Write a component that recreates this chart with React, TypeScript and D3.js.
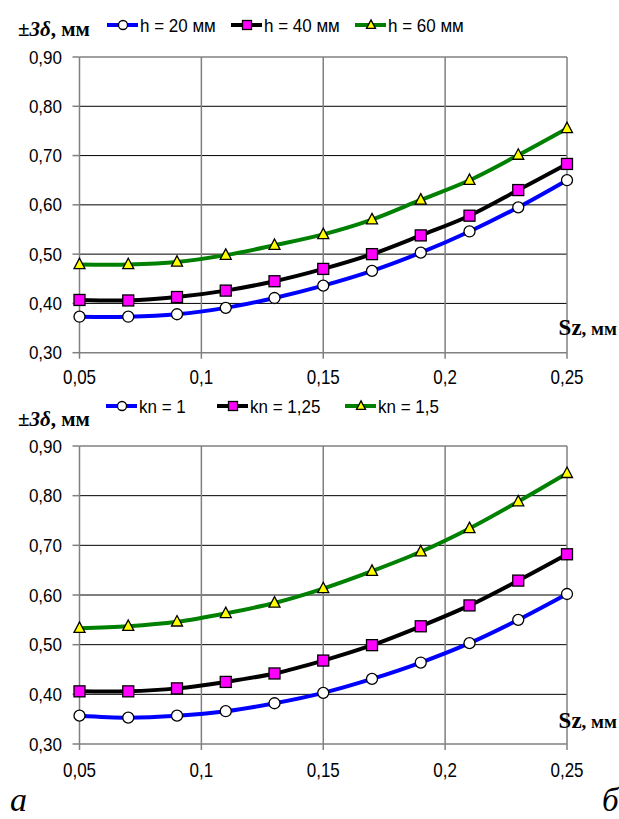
import React from "react";
import * as d3 from "d3";

const xValues = [0.05, 0.07, 0.09, 0.11, 0.13, 0.15, 0.17, 0.19, 0.21, 0.23, 0.25];

const topH20 = [0.373, 0.373, 0.378, 0.391, 0.411, 0.436, 0.466, 0.503, 0.546, 0.595, 0.65];
const topH40 = [0.407, 0.406, 0.413, 0.426, 0.445, 0.47, 0.5, 0.538, 0.578, 0.63, 0.683];
const topH60 = [0.479, 0.479, 0.484, 0.498, 0.518, 0.54, 0.57, 0.61, 0.65, 0.701, 0.755];

const botKn1 = [0.357, 0.353, 0.357, 0.366, 0.382, 0.403, 0.431, 0.464, 0.503, 0.55, 0.602];
const botKn125 = [0.406, 0.406, 0.412, 0.425, 0.442, 0.468, 0.499, 0.537, 0.579, 0.629, 0.682];
const botKn15 = [0.533, 0.537, 0.546, 0.563, 0.584, 0.613, 0.648, 0.687, 0.734, 0.788, 0.845];

const topLegend = ["h = 20 мм", "h = 40 мм", "h = 60 мм"];
const botLegend = ["kn = 1", "kn = 1,25", "kn = 1,5"];

const yTicks = [0.3, 0.4, 0.5, 0.6, 0.7, 0.8, 0.9];
const yTickLabels = ["0,30", "0,40", "0,50", "0,60", "0,70", "0,80", "0,90"];
const xTicks = [0.05, 0.1, 0.15, 0.2, 0.25];
const xTickLabels = ["0,05", "0,1", "0,15", "0,2", "0,25"];

const lineColors = ["#0000ff", "#000000", "#008000"];
const markerKinds = ["circle", "square", "triangle"];

const SANS = "'Liberation Sans', Arial, sans-serif";
const SERIF = "'Liberation Serif', 'Times New Roman', serif";

function Marker({ kind, x, y, s }: { kind: string; x: number; y: number; s: number }) {
  if (kind === "circle") {
    return <circle cx={x} cy={y} r={s * 0.5} fill="#fff" stroke="#000" strokeWidth={1.3} />;
  }
  if (kind === "square") {
    return (
      <rect x={x - s / 2} y={y - s / 2} width={s} height={s} fill="#ff00ff" stroke="#000" strokeWidth={1.3} />
    );
  }
  const h = s * 0.95;
  return (
    <path
      d={`M${x},${y - h * 0.6} L${x + s / 2},${y + h * 0.4} L${x - s / 2},${y + h * 0.4} Z`}
      fill="#ffff00"
      stroke="#000"
      strokeWidth={1.3}
    />
  );
}

type PanelProps = {
  top: number;
  bottom: number;
  series: number[][];
  legend: string[];
  legendX: number[];
  legendY: number;
  titleY: number;
  szY: number;
  xLabelY: number;
};

function Panel({ top, bottom, series, legend, legendX, legendY, titleY, szY, xLabelY }: PanelProps) {
  const left = 79.5;
  const right = 567;
  const x = d3.scaleLinear().domain([0.05, 0.25]).range([left, right]);
  const y = d3.scaleLinear().domain([0.3, 0.9]).range([bottom, top]);
  const line = d3
    .line<number>()
    .x((_, i) => x(xValues[i]))
    .y((v) => y(v))
    .curve(d3.curveCatmullRom.alpha(0.5));

  return (
    <g>
      {yTicks.slice(1, -1).map((t) => (
        <line key={"h" + t} x1={left} x2={right} y1={y(t)} y2={y(t)} stroke="#000" strokeWidth={1} />
      ))}
      {xTicks.slice(1).map((t) => (
        <line key={"v" + t} x1={x(t)} x2={x(t)} y1={top} y2={bottom + 6} stroke="#808080" strokeWidth={1.5} />
      ))}
      <line x1={left} x2={right} y1={top} y2={top} stroke="#808080" strokeWidth={1.5} />
      <line x1={left} x2={left} y1={top} y2={bottom + 6} stroke="#808080" strokeWidth={1.5} />
      <line x1={left} x2={right} y1={bottom} y2={bottom} stroke="#808080" strokeWidth={1.5} />
      {yTicks.map((t) => (
        <line key={"yt" + t} x1={left - 7} x2={left} y1={y(t)} y2={y(t)} stroke="#808080" strokeWidth={1.5} />
      ))}
      {yTicks.map((t, i) => (
        <text
          key={"yl" + t}
          transform={`translate(62,${y(t)}) scale(1,1.08)`}
          dy="0.36em"
          textAnchor="end"
          fontFamily={SANS}
          fontSize={17}
          fill="#000"
        >
          {yTickLabels[i]}
        </text>
      ))}
      {xTicks.map((t, i) => (
        <text
          key={"xl" + t}
          transform={`translate(${x(t)},${xLabelY}) scale(1,1.2)`}
          textAnchor="middle"
          fontFamily={SANS}
          fontSize={17}
          fill="#000"
        >
          {xTickLabels[i]}
        </text>
      ))}
      {series.map((vals, si) => (
        <path key={"s" + si} d={line(vals) || ""} fill="none" stroke={lineColors[si]} strokeWidth={4} />
      ))}
      {series.map((vals, si) =>
        vals.map((v, i) => (
          <Marker key={"m" + si + "-" + i} kind={markerKinds[si]} x={x(xValues[i])} y={y(v)} s={11} />
        ))
      )}
      <text x={18} y={titleY} fontFamily={SERIF} fontSize={21} fontWeight="bold" fill="#000">
        <tspan fontStyle="italic">±3δ</tspan>
        <tspan>, мм</tspan>
      </text>
      {legend.map((lab, i) => (
        <g key={"lg" + i}>
          <line
            x1={legendX[i]}
            x2={legendX[i] + 31}
            y1={legendY}
            y2={legendY}
            stroke={lineColors[i]}
            strokeWidth={4}
          />
          <Marker kind={markerKinds[i]} x={legendX[i] + 16} y={legendY} s={9} />
          <text
            transform={`translate(${legendX[i] + 33},${legendY}) scale(1,1.1)`}
            dy="0.36em"
            fontFamily={SANS}
            fontSize={17}
            fill="#000"
          >
            {lab}
          </text>
        </g>
      ))}
      <text x={617} y={szY} textAnchor="end" fontFamily={SERIF} fontWeight="bold" fill="#000">
        <tspan fontSize={23}>Sz</tspan>
        <tspan fontSize={19}>, мм</tspan>
      </text>
    </g>
  );
}

export default function App() {
  return (
    <svg
      width={619}
      height={819}
      style={{ position: "absolute", left: 0, top: 0, background: "#fff" }}
    >
      <rect width={619} height={819} fill="#fff" />
      <Panel
        top={57}
        bottom={352.7}
        series={[topH20, topH40, topH60]}
        legend={topLegend}
        legendX={[107, 231, 355]}
        legendY={25}
        titleY={36}
        szY={335}
        xLabelY={384}
      />
      <Panel
        top={446}
        bottom={744}
        series={[botKn1, botKn125, botKn15]}
        legend={botLegend}
        legendX={[106, 217, 345]}
        legendY={406}
        titleY={426}
        szY={728}
        xLabelY={777}
      />
      <text x={10} y={811} fontFamily={SERIF} fontStyle="italic" fontSize={34} fill="#000">
        а
      </text>
      <text x={602} y={811} fontFamily={SERIF} fontStyle="italic" fontSize={33} fill="#000">
        б
      </text>
    </svg>
  );
}
